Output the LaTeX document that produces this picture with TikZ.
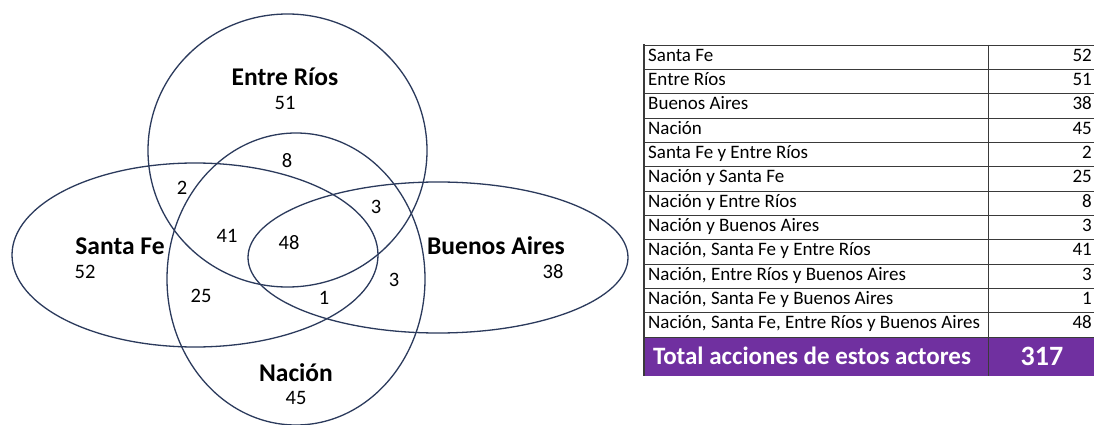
\documentclass[tikz,border=0pt]{standalone}
\usepackage{fontspec}
\setmainfont{Carlito}
\definecolor{vennc}{HTML}{2B3A5C}
\definecolor{gridc}{HTML}{3A3A3A}
\definecolor{totc}{HTML}{7030A0}
\begin{document}
\begin{tikzpicture}[x=1pt,y=-1pt,
  venn/.style={draw=vennc, line width=1.3pt},
  lab/.style={font=\fontsize{25.5}{30}\selectfont\bfseries, inner sep=0pt},
  num/.style={font=\fontsize{20.5}{24}\selectfont, inner sep=0pt},
  cell/.style={font=\fontsize{19}{23}\selectfont, inner sep=0pt},
  tot/.style={font=\fontsize{25}{30}\selectfont\bfseries, text=white, inner sep=0pt},
  grid/.style={draw=gridc, line width=0.9pt}]
\useasboundingbox (0,0) rectangle (1094,425);
\fill[white] (0,0) rectangle (1094,425);
% Venn ellipses
\draw[venn] (287.5,150.5) ellipse [x radius=139.5pt, y radius=136.5pt];
\draw[venn] (195,255) ellipse [x radius=183pt, y radius=92pt];
\draw[venn] (296,279) ellipse [x radius=129pt, y radius=146pt];
\draw[venn] (438,257.5) ellipse [x radius=190pt, y radius=75.5pt];
% Venn labels
\node[lab] (ler) at (285,77) {Entre Ríos};
\node[num] (ner) at (285,103) {51};
\node[lab] (lsf) at (120,246) {Santa Fe};
\node[num] (nsf) at (85,272) {52};
\node[lab] (lba) at (496,246) {Buenos Aires};
\node[num] (nba) at (553,272) {38};
\node[lab] (lna) at (296,373) {Nación};
\node[num] (nna) at (296,398) {45};
\node[num] (n8) at (287,161) {8};
\node[num] (n2) at (182,188) {2};
\node[num] (n3a) at (376,207) {3};
\node[num] (n41) at (227,236) {41};
\node[num] (n48) at (289,243) {48};
\node[num] (n3b) at (394,280) {3};
\node[num] (n1) at (324,298) {1};
\node[num] (n25) at (201,296) {25};
% Table
\fill[totc] (644,337) rectangle (1094,375.5);
\foreach \k in {0,...,12} {
  \draw[grid] (644,45+\k*24.333) -- (1094,45+\k*24.333);
}
\draw[gridc, line width=1.6pt] (644,44.5) -- (644,376);
\draw[grid] (988,45) -- (988,376);
\foreach \i/\t/\v in {1/Santa Fe/52, 2/Entre Ríos/51, 3/Buenos Aires/38, 4/Nación/45,
  5/Santa Fe y Entre Ríos/2, 6/Nación y Santa Fe/25, 7/Nación y Entre Ríos/8,
  8/Nación y Buenos Aires/3, 9/{Nación, Santa Fe y Entre Ríos}/41,
  10/{Nación, Entre Ríos y Buenos Aires}/3, 11/{Nación, Santa Fe y Buenos Aires}/1,
  12/{Nación, Santa Fe, Entre Ríos y Buenos Aires}/48} {
  \node[cell, anchor=mid west] (r\i) at (648,45+\i*24.333-12.17+1.5) {\t};
  \node[cell, anchor=mid east] (v\i) at (1092,45+\i*24.333-12.17+1.5) {\v};
}
\node[tot] (ttot) at (812,356) {Total acciones de estos actores};
\node[tot, font=\fontsize{28}{33}\selectfont\bfseries] (vtot) at (1042,356) {317};
\end{tikzpicture}
\end{document}
